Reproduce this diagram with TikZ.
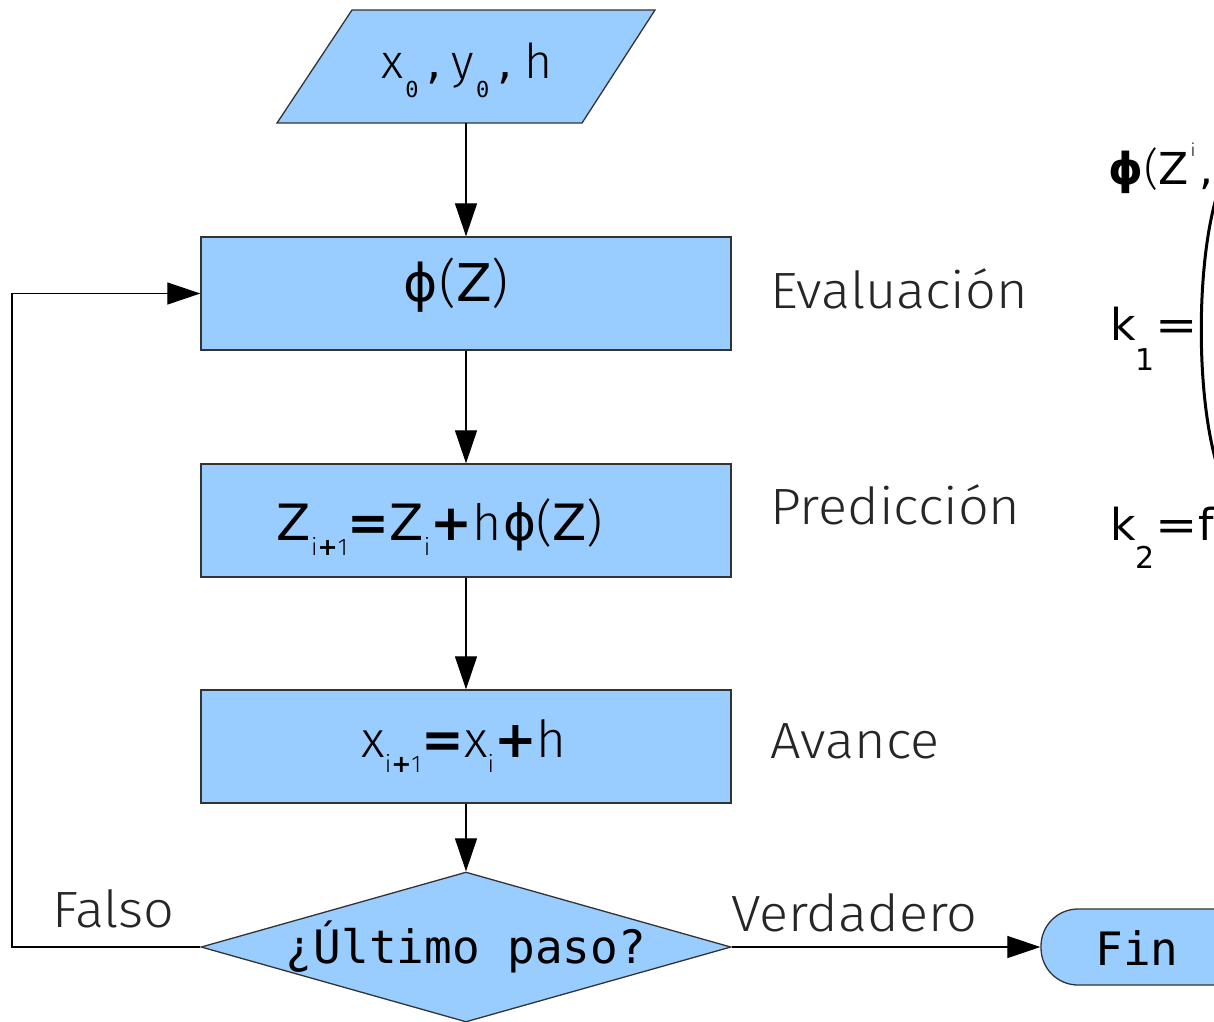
\documentclass[tikz,border=0pt]{standalone}
\usepackage{fontspec}
\usetikzlibrary{arrows.meta,shapes.geometric}
\setmainfont{DejaVu Sans}
\newfontfamily\labf{Fira Sans Light}
\newfontfamily\lblf{Fira Sans Light}[FakeStretch=1.06]
\newfontfamily\monof{DejaVu Sans Mono}
\newfontfamily\djf{DejaVu Sans}
\definecolor{boxblue}{HTML}{99CCFF}
\definecolor{edgec}{HTML}{333333}
\newcommand\fsz[1]{\fontsize{#1}{#1}\selectfont}
\newcommand\dn[3]{\raisebox{-#1pt}{\fsz{#2}#3}}
\begin{document}
\begin{tikzpicture}[x=1pt,y=-1pt,
  shp/.style={draw=edgec, fill=boxblue, line width=1.3pt},
  proc/.style={shp, rectangle, minimum width=530pt, minimum height=113pt, inner sep=0pt},
  conn/.style={line width=1.2pt, -{Triangle[length=33pt,width=22pt]}},
  lbl/.style={font=\lblf\fsz{51}, anchor=base west, inner sep=0pt, text=black!85},
  txt/.style={anchor=base, inner sep=0pt}]
\useasboundingbox (0,0) rectangle (1214,1021);
\clip (0,0) rectangle (1214,1021);
% input parallelogram
\draw[shp] (352,10) -- (655,10) -- (582,123) -- (277,123) -- cycle;
\coordinate (inb) at (466,123);
\node[txt] (intext) at (467,78) {\fsz{48}{\labf x}\hspace{2pt}\dn{19}{22}{\monof 0}\hspace{8pt}{\djf ,}\hspace{10pt}{\labf y}\hspace{2pt}\dn{19}{22}{\monof 0}\hspace{8pt}{\djf ,}\hspace{12pt}{\labf h}};
% process boxes
\node[proc] (eval) at (466,293.5) {};
\node[proc] (pred) at (466,520.5) {};
\node[proc] (av) at (466,746.5) {};
\node[txt] (evaltxt) at (456,301) {\fsz{52}{\djf ϕ}\hspace{2pt}{\labf (}{\djf Z}{\labf )}};
\node[txt] (predtxt) at (440,540) {\fsz{50}{\djf Z}\dn{15}{24}{\labf i{\djf\bfseries +}1}{\djf\bfseries =}{\djf Z}\dn{15}{24}{\labf i}{\djf\bfseries +}{\labf h}\hspace{2pt}{\djf ϕ}{\labf (}{\djf Z}{\labf )}};
\node[txt] (avtxt) at (464,757) {\fsz{51}{\labf x}\dn{15}{24}{\labf i{\djf\bfseries +}1}{\djf\bfseries =}{\labf x}\dn{15}{24}{\labf i}{\djf\bfseries +}{\labf h}};
% decision
\node[shp, diamond, minimum width=530pt, minimum height=150pt, inner sep=0pt] (dec) at (466,947) {};
\node[txt, font=\monof\fsz{46}] (dectxt) at (466,963) {¿Último paso?};
% end
\node[shp, rectangle, rounded corners=37pt, minimum width=210pt, minimum height=76pt, inner sep=0pt] (fin) at (1146,947) {};
\node[txt, font=\monof\fsz{46}] (fintxt) at (1137,965) {Fin};
% labels
\node[lbl] (l1) at (770,308) {Evaluación};
\node[lbl] (l2) at (770,524) {Predicción};
\node[lbl] (l3) at (770,758) {Avance};
\node[lbl] (l4) at (52,927) {Falso};
\node[lbl] (l5) at (731,931) {Verdadero};
% connectors
\coordinate (loopc) at (12,947);
\draw[conn] (inb) -- (eval.north);
\draw[conn] (eval) -- (pred);
\draw[conn] (pred) -- (av);
\draw[conn] (av) -- (dec.north);
\draw[conn] (dec.west) -- (loopc) |- (eval.west);
\draw[conn] (dec.east) -- (fin.west);
% right side formulas (cut off)
\node[anchor=base west, inner sep=0pt] (r1) at (1108,184) {\fsz{44}{\bfseries ϕ}\hspace{1pt}{\labf (}Z\hspace{2pt}\raisebox{28pt}{\fsz{18}\labf i}\hspace{4pt},};
\node[anchor=base west, inner sep=0pt] (r2) at (1110,340) {\fsz{44}k\dn{30}{30}{1}\hspace{1pt}\scalebox{1.15}[1]{=}};
\node[anchor=base west, inner sep=0pt] (r3) at (1110,540) {\fsz{44}k\dn{28}{30}{2}\hspace{1pt}\scalebox{1.15}[1]{=}f};
\draw[line width=3pt] (1217,195) .. controls (1196,265) and (1196,395) .. (1217,465);
\end{tikzpicture}
\end{document}
